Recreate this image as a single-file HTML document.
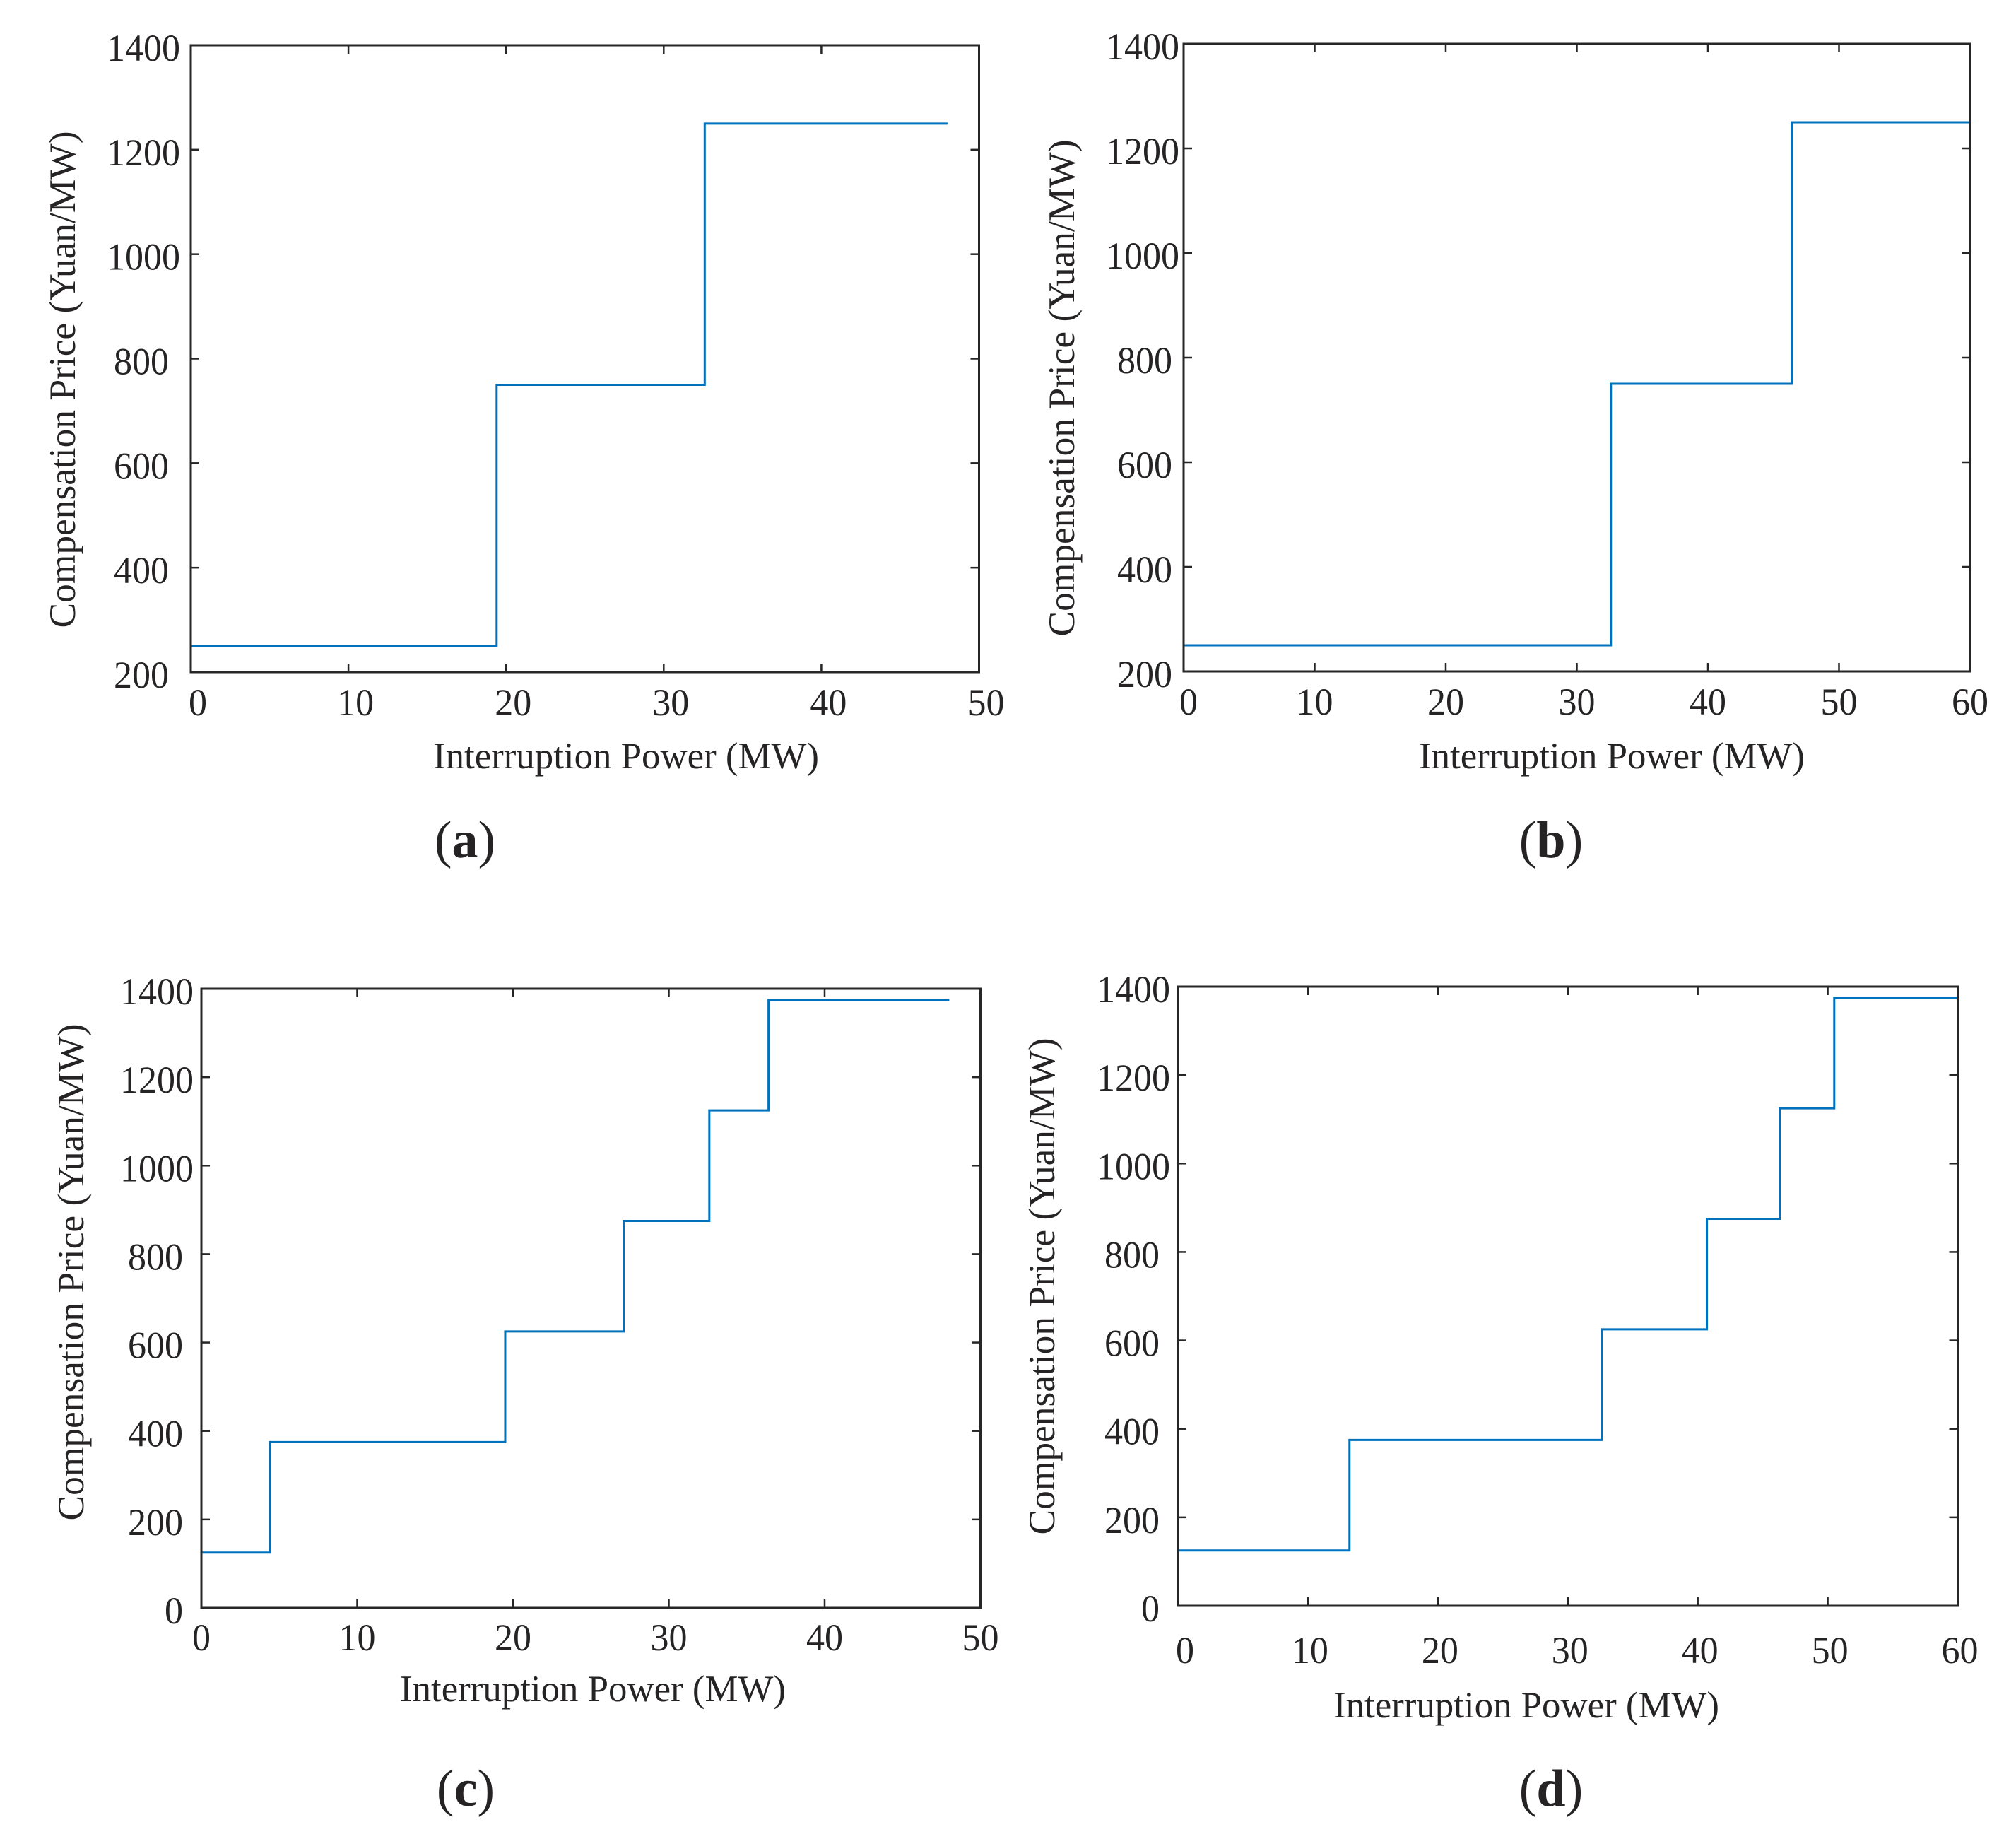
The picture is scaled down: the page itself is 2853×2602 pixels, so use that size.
<!DOCTYPE html>
<html lang="en">
<head>
<meta charset="utf-8">
<title>Compensation price versus interruption power</title>
<style>
html,body{margin:0;padding:0;background:#fff;width:2853px;height:2602px;overflow:hidden}
svg{display:block}
text{font-family:"Liberation Serif",serif;fill:#262324}
</style>
</head>
<body>
<svg id="figure" xmlns="http://www.w3.org/2000/svg" width="2853" height="2602" viewBox="0 0 2853 2602"></svg>
<script>
// Chart data
const yTicksHigh = [200, 400, 600, 800, 1000, 1200, 1400];
const yTicksFull = [0, 200, 400, 600, 800, 1000, 1200, 1400];
const xTicks50 = [0, 10, 20, 30, 40, 50];
const xTicks60 = [0, 10, 20, 30, 40, 50, 60];

const edgesA = [0, 19.4, 32.6, 48];
const pricesA = [250, 750, 1250];
const edgesB = [0, 32.6, 46.4, 60];
const pricesB = [250, 750, 1250];
const edgesC = [0, 4.4, 19.5, 27.1, 32.6, 36.4, 48];
const pricesC = [125, 375, 625, 875, 1125, 1375];
const edgesD = [0, 13.2, 32.6, 40.7, 46.3, 50.5, 60];
const pricesD = [125, 375, 625, 875, 1125, 1375];

const xAxisTitle = 'Interruption Power (MW)';
const yAxisTitle = 'Compensation Price (Yuan/MW)';

// Layout for each panel
const panels = [
  {id:'a', edges:edgesA, prices:pricesA, xTicks:xTicks50, yTicks:yTicksHigh,
   L:270, T:64, R:1385.5, B:951, y4:-15, y3:-31, yDy:22, xDx:10, xZero:0, xBase:1012,
   yTitleX:106, yTitleC:537, xTitleC:886, xTitleBase:1087, capX:658, capBase:1213},
  {id:'b', edges:edgesB, prices:pricesB, xTicks:xTicks60, yTicks:yTicksHigh,
   L:1675, T:62, R:2788, B:950, y4:-6, y3:-16, yDy:22, xDx:0, xZero:7, xBase:1011,
   yTitleX:1520, yTitleC:549, xTitleC:2281, xTitleBase:1087, capX:2195, capBase:1213},
  {id:'c', edges:edgesC, prices:pricesC, xTicks:xTicks50, yTicks:yTicksFull,
   L:285, T:1399, R:1387.5, B:2275, y4:-11, y3:-26, yDy:22, xDx:0, xZero:0, xBase:2335,
   yTitleX:118, yTitleC:1800, xTitleC:839, xTitleBase:2407, capX:659, capBase:2555},
  {id:'d', edges:edgesD, prices:pricesD, xTicks:xTicks60, yTicks:yTicksFull,
   L:1667, T:1396, R:2770.5, B:2272, y4:-11, y3:-26, yDy:22, xDx:3, xZero:7, xBase:2353,
   yTitleX:1492, yTitleC:1820, xTitleC:2160, xTitleBase:2430, capX:2195, capBase:2555}
];

const SVG_NS = 'http://www.w3.org/2000/svg';
const AXIS_COLOR = '#262626';
const LINE_COLOR = '#0072BD';
const TICK_LEN = 12;
const DIGIT_WIDTH = 26;
const figure = document.getElementById('figure');

function make(parent, tag, props) {
  const el = document.createElementNS(SVG_NS, tag);
  for (const key in props) el.setAttribute(key, props[key]);
  parent.appendChild(el);
  return el;
}

function drawPanel(p) {
  const xMax = p.xTicks[p.xTicks.length - 1];
  const yMin = p.yTicks[0];
  const yMax = p.yTicks[p.yTicks.length - 1];
  const xScale = v => p.L + (v / xMax) * (p.R - p.L);
  const yScale = v => p.B - ((v - yMin) / (yMax - yMin)) * (p.B - p.T);

  const g = make(figure, 'g', {});
  
  

  // Step line
  const pts = [];
  p.prices.forEach((price, i) => {
    pts.push(xScale(p.edges[i]) + ',' + yScale(price));
    pts.push(xScale(p.edges[i + 1]) + ',' + yScale(price));
  });
  const line = make(g, 'polyline', {points: pts.join(' '), fill:'none', stroke:LINE_COLOR, 'stroke-width':3});
  
  

  // Axes box
  const box = make(g, 'rect', {x:p.L, y:p.T, width:p.R - p.L, height:p.B - p.T, fill:'none', stroke:AXIS_COLOR, 'stroke-width':3});
  
  

  // X ticks and labels
  p.xTicks.forEach(v => {
    const x = xScale(v);
    if (v !== 0 && v !== xMax) {
      const bottom = make(g, 'line', {x1:x, x2:x, y1:p.B, y2:p.B - TICK_LEN, stroke:AXIS_COLOR, 'stroke-width':2.5});
      
      
      const top = make(g, 'line', {x1:x, x2:x, y1:p.T, y2:p.T + TICK_LEN, stroke:AXIS_COLOR, 'stroke-width':2.5});
      
      
    }
    const label = make(g, 'text', {x:x + p.xDx + (v === 0 ? p.xZero : 0), y:p.xBase, 'text-anchor':'middle', 'font-size':54,
      textLength:String(v).length * DIGIT_WIDTH, lengthAdjust:'spacingAndGlyphs'});
    label.textContent = v;
    
    
  });

  // Y ticks and labels
  p.yTicks.forEach(v => {
    const y = yScale(v);
    if (v !== yMin && v !== yMax) {
      const left = make(g, 'line', {x1:p.L, x2:p.L + TICK_LEN, y1:y, y2:y, stroke:AXIS_COLOR, 'stroke-width':2.5});
      
      
      const right = make(g, 'line', {x1:p.R, x2:p.R - TICK_LEN, y1:y, y2:y, stroke:AXIS_COLOR, 'stroke-width':2.5});
      
      
    }
    const offset = v >= 1000 ? p.y4 : p.y3;
    const label = make(g, 'text', {x:p.L + offset, y:y + p.yDy, 'text-anchor':'end', 'font-size':54,
      textLength:String(v).length * DIGIT_WIDTH, lengthAdjust:'spacingAndGlyphs'});
    label.textContent = v;
    
    
  });

  // Axis titles
  const xTitle = make(g, 'text', {x:p.xTitleC, y:p.xTitleBase, 'text-anchor':'middle', 'font-size':53, textLength:546, lengthAdjust:'spacingAndGlyphs'});
  xTitle.textContent = xAxisTitle;
  
  

  const yTitle = make(g, 'text', {x:0, y:0, 'text-anchor':'middle', 'font-size':53, textLength:703, lengthAdjust:'spacingAndGlyphs',
    transform:'translate(' + p.yTitleX + ' ' + p.yTitleC + ') rotate(-90)'});
  yTitle.textContent = yAxisTitle;
  
  

  // Caption
  const cap = make(g, 'text', {x:p.capX, y:p.capBase, 'text-anchor':'middle', 'font-size':74});
  const open = make(cap, 'tspan', {});
  open.textContent = '(';
  const letter = make(cap, 'tspan', {'font-weight':'bold'});
  letter.textContent = p.id;
  const close = make(cap, 'tspan', {});
  close.textContent = ')';
  
  
}

panels.forEach(drawPanel);
</script>
</body>
</html>
